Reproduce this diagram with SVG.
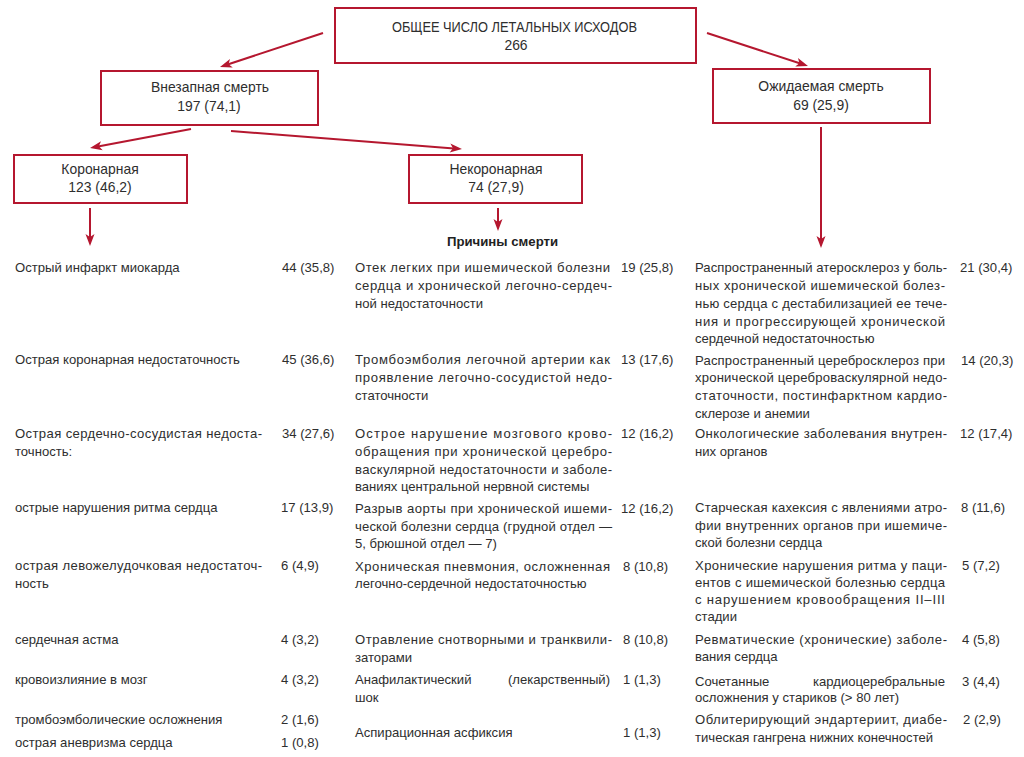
<svg xmlns="http://www.w3.org/2000/svg" width="1024" height="757" viewBox="0 0 1024 757">
<style>
text{font-family:"Liberation Sans",Arial,sans-serif;fill:#2e2e2e;}
.t{font-size:13.1px;}
.b{font-size:13.9px;text-anchor:middle;}
.h{font-size:13.2px;font-weight:bold;text-anchor:middle;fill:#222;}
.e{text-anchor:end;}
.box{fill:#fff;stroke:#b5172f;stroke-width:2;}
.c{stroke:#b5172f;stroke-width:2;fill:none;marker-end:url(#ah);}
</style>
<defs>
<marker id="ah" markerUnits="userSpaceOnUse" markerWidth="12" markerHeight="9" refX="4" refY="4.5" orient="auto" overflow="visible">
<path d="M0,0 L12,4.5 L0,9 L3,4.5 z" fill="#b5172f"/>
</marker>
</defs>
<rect width="1024" height="757" fill="#fff"/>

<g id="connectors">
<line class="c" x1="323" y1="33" x2="227.6" y2="64.5"/>
<line class="c" x1="707" y1="33" x2="800.4" y2="63.5"/>
<line class="c" x1="191" y1="129" x2="97.9" y2="146.5"/>
<line class="c" x1="231" y1="131" x2="454" y2="148.4"/>
<line class="c" x1="90" y1="208" x2="90" y2="238"/>
<line class="c" x1="498" y1="208" x2="498" y2="223"/>
<line class="c" x1="821" y1="127" x2="821" y2="240"/>
</g>

<g id="node-total">
<rect class="box" x="335" y="8" width="361" height="55"/>
<text class="b" x="514.5" y="32" textLength="245" lengthAdjust="spacingAndGlyphs">ОБЩЕЕ ЧИСЛО ЛЕТАЛЬНЫХ ИСХОДОВ</text>
<text class="b" x="516" y="50">266</text>
</g>

<g id="node-sudden">
<rect class="box" x="101" y="71" width="217" height="54"/>
<text class="b" x="210" y="92">Внезапная смерть</text>
<text class="b" x="209" y="111">197 (74,1)</text>
</g>

<g id="node-expected">
<rect class="box" x="713" y="69" width="217" height="54"/>
<text class="b" x="821" y="91">Ожидаемая смерть</text>
<text class="b" x="821" y="110">69 (25,9)</text>
</g>

<g id="node-coronary">
<rect class="box" x="14" y="155" width="173" height="48"/>
<text class="b" x="100" y="174">Коронарная</text>
<text class="b" x="100" y="192">123 (46,2)</text>
</g>

<g id="node-noncoronary">
<rect class="box" x="409" y="155" width="173" height="48"/>
<text class="b" x="496" y="174">Некоронарная</text>
<text class="b" x="496" y="192">74 (27,9)</text>
</g>

<g id="label-causes">
<text class="h" x="502.5" y="246">Причины смерти</text>
</g>

<g id="col-coronary" class="t">
<text x="15" y="272">Острый инфаркт миокарда</text>
<text x="282" y="272">44 (35,8)</text>
<text x="15" y="364">Острая коронарная недостаточность</text>
<text x="282" y="364">45 (36,6)</text>
<text x="15" y="438" textLength="247" lengthAdjust="spacing">Острая сердечно-сосудистая недоста-</text>
<text x="15" y="456">точность:</text>
<text x="282" y="438">34 (27,6)</text>
<text x="15" y="512">острые нарушения ритма сердца</text>
<text x="281" y="512">17 (13,9)</text>
<text x="15" y="570" textLength="247" lengthAdjust="spacing">острая левожелудочковая недостаточ-</text>
<text x="15" y="588">ность</text>
<text x="281" y="570">6 (4,9)</text>
<text x="15" y="644">сердечная астма</text>
<text x="281" y="644">4 (3,2)</text>
<text x="15" y="684">кровоизлияние в мозг</text>
<text x="281" y="684">4 (3,2)</text>
<text x="15" y="724">тромбоэмболические осложнения</text>
<text x="281" y="724">2 (1,6)</text>
<text x="15" y="747">острая аневризма сердца</text>
<text x="281" y="747">1 (0,8)</text>
</g>

<g id="col-noncoronary" class="t">
<text x="355" y="272" textLength="255" lengthAdjust="spacing">Отек легких при ишемической болезни</text>
<text x="355" y="290" textLength="257" lengthAdjust="spacing">сердца и хронической легочно-сердеч-</text>
<text x="355" y="308">ной недостаточности</text>
<text x="621" y="272">19 (25,8)</text>
<text x="355" y="364" textLength="255" lengthAdjust="spacing">Тромбоэмболия легочной артерии как</text>
<text x="355" y="382" textLength="257" lengthAdjust="spacing">проявление легочно-сосудистой недо-</text>
<text x="355" y="400">статочности</text>
<text x="621" y="364">13 (17,6)</text>
<text x="355" y="438" textLength="257" lengthAdjust="spacing">Острое нарушение мозгового крово-</text>
<text x="355" y="456" textLength="257" lengthAdjust="spacing">обращения при хронической церебро-</text>
<text x="355" y="474" textLength="257" lengthAdjust="spacing">васкулярной недостаточности и заболе-</text>
<text x="355" y="491">ваниях центральной нервной системы</text>
<text x="621" y="438">12 (16,2)</text>
<text x="355" y="513" textLength="257" lengthAdjust="spacing">Разрыв аорты при хронической ишеми-</text>
<text x="355" y="531" textLength="257" lengthAdjust="spacing">ческой болезни сердца (грудной отдел —</text>
<text x="355" y="548">5, брюшной отдел — 7)</text>
<text x="621" y="513">12 (16,2)</text>
<text x="355" y="571" textLength="255" lengthAdjust="spacing">Хроническая пневмония, осложненная</text>
<text x="355" y="588">легочно-сердечной недостаточностью</text>
<text x="623" y="571">8 (10,8)</text>
<text x="355" y="644" textLength="257" lengthAdjust="spacing">Отравление снотворными и транквили-</text>
<text x="355" y="662">заторами</text>
<text x="623" y="644">8 (10,8)</text>
<text x="355" y="684">Анафилактический</text>
<text class="e" x="610" y="684">(лекарственный)</text>
<text x="355" y="702">шок</text>
<text x="623" y="684">1 (1,3)</text>
<text x="355" y="737">Аспирационная асфиксия</text>
<text x="623" y="737">1 (1,3)</text>
</g>

<g id="col-expected" class="t">
<text x="695" y="272" textLength="252" lengthAdjust="spacing">Распространенный атеросклероз у боль-</text>
<text x="695" y="290" textLength="250" lengthAdjust="spacing">ных хронической ишемической болез-</text>
<text x="695" y="308" textLength="252" lengthAdjust="spacing">нью сердца с дестабилизацией ее тече-</text>
<text x="695" y="326" textLength="250" lengthAdjust="spacing">ния и прогрессирующей хронической</text>
<text x="695" y="343">сердечной недостаточностью</text>
<text x="960" y="272">21 (30,4)</text>
<text x="695" y="365" textLength="250" lengthAdjust="spacing">Распространенный церебросклероз при</text>
<text x="695" y="382" textLength="252" lengthAdjust="spacing">хронической цереброваскулярной недо-</text>
<text x="695" y="400" textLength="252" lengthAdjust="spacing">статочности, постинфарктном кардио-</text>
<text x="695" y="418">склерозе и анемии</text>
<text x="961" y="365">14 (20,3)</text>
<text x="695" y="438" textLength="252" lengthAdjust="spacing">Онкологические заболевания внутрен-</text>
<text x="695" y="456">них органов</text>
<text x="960" y="438">12 (17,4)</text>
<text x="695" y="512" textLength="252" lengthAdjust="spacing">Старческая кахексия с явлениями атро-</text>
<text x="695" y="530" textLength="252" lengthAdjust="spacing">фии внутренних органов при ишемиче-</text>
<text x="695" y="547">ской болезни сердца</text>
<text x="961" y="512">8 (11,6)</text>
<text x="695" y="570" textLength="252" lengthAdjust="spacing">Хронические нарушения ритма у паци-</text>
<text x="695" y="587" textLength="250" lengthAdjust="spacing">ентов с ишемической болезнью сердца</text>
<text x="695" y="604" textLength="250" lengthAdjust="spacing">с нарушением кровообращения II–III</text>
<text x="695" y="621">стадии</text>
<text x="962" y="570">5 (7,2)</text>
<text x="695" y="644" textLength="252" lengthAdjust="spacing">Ревматические (хронические) заболе-</text>
<text x="695" y="661">вания сердца</text>
<text x="962" y="644">4 (5,8)</text>
<text x="695" y="686">Сочетанные</text>
<text class="e" x="945" y="686">кардиоцеребральные</text>
<text x="695" y="702">осложнения у стариков (&gt; 80 лет)</text>
<text x="962" y="686">3 (4,4)</text>
<text x="695" y="724" textLength="252" lengthAdjust="spacing">Облитерирующий эндартериит, диабе-</text>
<text x="695" y="742">тическая гангрена нижних конечностей</text>
<text x="963" y="724">2 (2,9)</text>
</g>
</svg>
